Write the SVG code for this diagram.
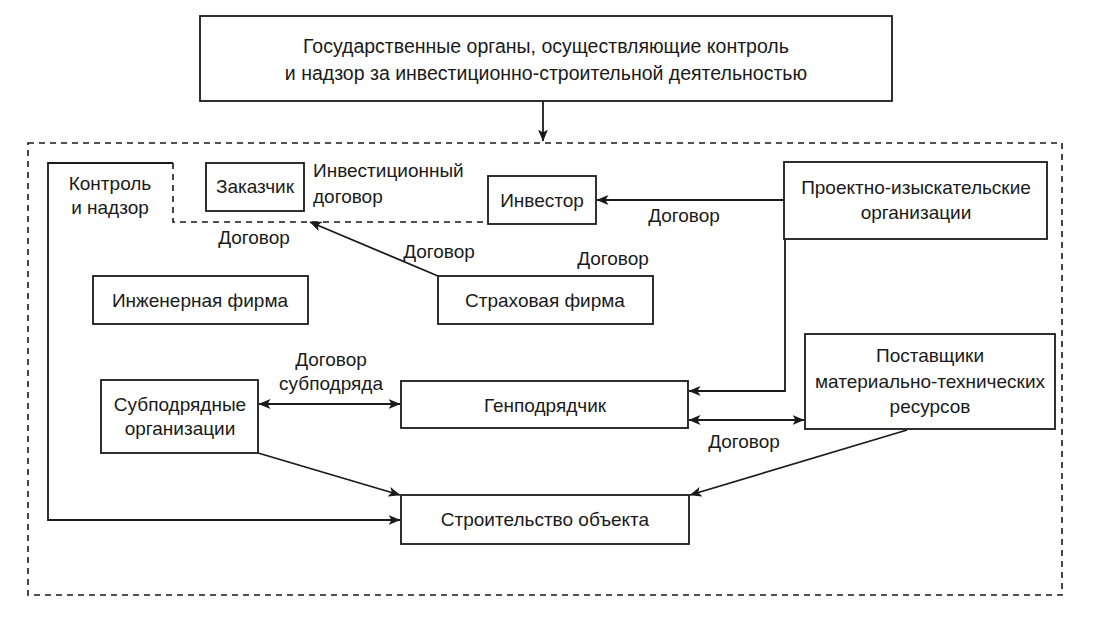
<svg xmlns="http://www.w3.org/2000/svg" width="1104" height="617" viewBox="0 0 1104 617">
<defs>
<marker id="ah" viewBox="0 0 12 10" refX="11.5" refY="5" markerWidth="12" markerHeight="10" markerUnits="userSpaceOnUse" orient="auto-start-reverse">
<path d="M0,0 L12,5 L0,10 L3,5 z" fill="#1a1a1a"/>
</marker>
</defs>
<style>
.box{fill:#fff;stroke:#1a1a1a;stroke-width:1.8}
.ln{fill:none;stroke:#1a1a1a;stroke-width:1.8}
.dash{fill:none;stroke:#1a1a1a;stroke-width:1.6;stroke-dasharray:6 5}
text{font-family:"Liberation Sans","Open Sans",sans-serif;font-size:19px;fill:#1a1a1a}
.c{text-anchor:middle}
.t{font-size:19.5px}
</style>
<rect width="1104" height="617" fill="#fff"/>
<g id="boundary">
<rect class="dash" x="28" y="143" width="1034" height="452"/>
</g>
<g id="connectors">
<path class="ln" d="M543,101 V141" marker-end="url(#ah)"/>
<path class="ln" d="M173,163 H48 V520 H400" marker-end="url(#ah)"/>
<path class="dash" d="M173,163 V222 H488"/>
<path class="ln" d="M438,276 L310,222" marker-end="url(#ah)"/>
<path class="ln" d="M784,200 H597" marker-end="url(#ah)"/>
<path class="ln" d="M785,239 V391 H689" marker-end="url(#ah)"/>
<path class="ln" d="M259,404 H400" marker-start="url(#ah)" marker-end="url(#ah)"/>
<path class="ln" d="M689,420 H804" marker-start="url(#ah)" marker-end="url(#ah)"/>
<path class="ln" d="M258,453 L400,495" marker-end="url(#ah)"/>
<path class="ln" d="M907,430 L690,495" marker-end="url(#ah)"/>
</g>
<g id="gov">
<rect class="box" x="200" y="16" width="692" height="85"/>
<text class="c t" x="546" y="53">Государственные органы, осуществляющие контроль</text>
<text class="c t" x="546" y="80">и надзор за инвестиционно-строительной деятельностью</text>
</g>
<g id="control">
<text class="c" x="110" y="190">Контроль</text>
<text class="c" x="110" y="214">и надзор</text>
</g>
<g id="customer">
<rect class="box" x="206" y="163" width="98" height="48"/>
<text class="c" x="255" y="193">Заказчик</text>
</g>
<g id="invest-contract">
<text x="313" y="177">Инвестиционный</text>
<text x="313" y="203">договор</text>
</g>
<g id="investor">
<rect class="box" x="488" y="176" width="108" height="48"/>
<text class="c" x="542" y="207">Инвестор</text>
</g>
<g id="design">
<rect class="box" x="784" y="162" width="263" height="77"/>
<text class="c" x="916" y="194">Проектно-изыскательские</text>
<text class="c" x="916" y="219">организации</text>
</g>
<g id="labels">
<text class="c" x="254" y="244">Договор</text>
<text class="c" x="439" y="258">Договор</text>
<text class="c" x="613" y="265">Договор</text>
<text class="c" x="684" y="222">Договор</text>
<text class="c" x="331" y="366">Договор</text>
<text class="c" x="331" y="390">субподряда</text>
<text class="c" x="744" y="448">Договор</text>
</g>
<g id="insurance">
<rect class="box" x="438" y="276" width="215" height="48"/>
<text class="c" x="545" y="307">Страховая фирма</text>
</g>
<g id="engineering">
<rect class="box" x="93" y="276" width="215" height="48"/>
<text class="c" x="200" y="307">Инженерная фирма</text>
</g>
<g id="subcontractors">
<rect class="box" x="101" y="380" width="157" height="73"/>
<text class="c" x="180" y="411">Субподрядные</text>
<text class="c" x="180" y="435">организации</text>
</g>
<g id="general">
<rect class="box" x="401" y="381" width="287" height="47"/>
<text class="c" x="545" y="412">Генподрядчик</text>
</g>
<g id="suppliers">
<rect class="box" x="805" y="334" width="250" height="95"/>
<text class="c" x="930" y="362">Поставщики</text>
<text class="c" x="930" y="388">материально-технических</text>
<text class="c" x="930" y="413">ресурсов</text>
</g>
<g id="construction">
<rect class="box" x="401" y="495" width="288" height="49"/>
<text class="c" x="545" y="526">Строительство объекта</text>
</g>
</svg>
